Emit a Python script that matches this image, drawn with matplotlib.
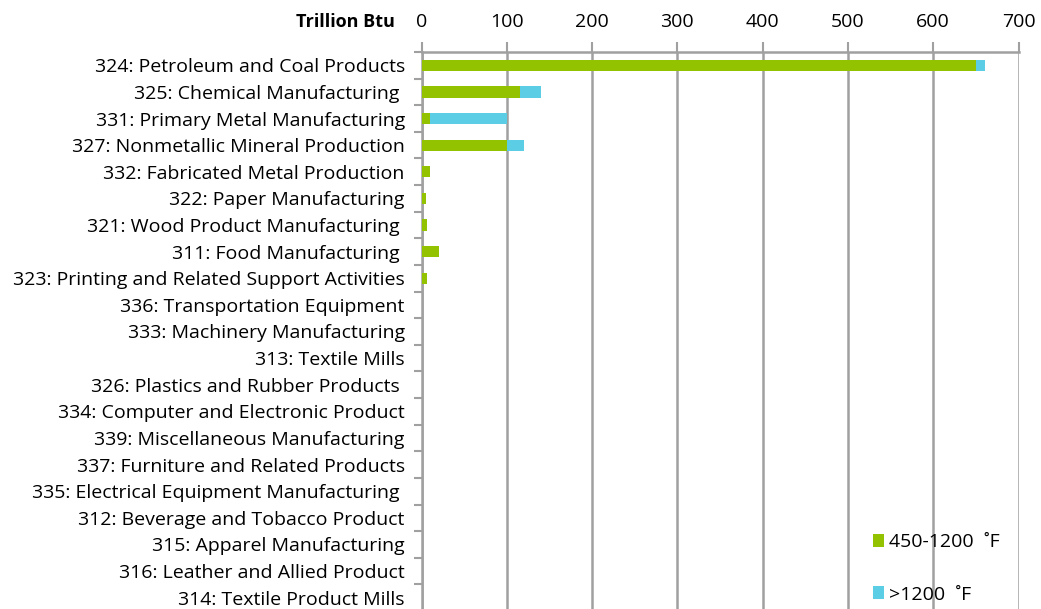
import matplotlib
matplotlib.use("Agg")
import matplotlib.pyplot as plt
import numpy as np

plt.rcParams['font.family'] = ['Open Sans', 'DejaVu Sans']

categories = [
    "324: Petroleum and Coal Products",
    "325: Chemical Manufacturing ",
    "331: Primary Metal Manufacturing",
    "327: Nonmetallic Mineral Production",
    "332: Fabricated Metal Production",
    "322: Paper Manufacturing",
    "321: Wood Product Manufacturing ",
    "311: Food Manufacturing ",
    "323: Printing and Related Support Activities",
    "336: Transportation Equipment",
    "333: Machinery Manufacturing",
    "313: Textile Mills",
    "326: Plastics and Rubber Products ",
    "334: Computer and Electronic Product",
    "339: Miscellaneous Manufacturing",
    "337: Furniture and Related Products",
    "335: Electrical Equipment Manufacturing ",
    "312: Beverage and Tobacco Product",
    "315: Apparel Manufacturing",
    "316: Leather and Allied Product",
    "314: Textile Product Mills",
]
mid_temp = [650, 115, 10, 100, 10, 5, 6.5, 20.5, 6.5, 0, 0, 0, 0, 0, 0, 0, 0, 0, 0, 0, 0]
high_temp = [11, 25, 90, 20, 0, 0, 0, 0, 0, 0, 0, 0, 0, 0, 0, 0, 0, 0, 0, 0, 0]
series_labels = ["450-1200  ˚F", ">1200  ˚F"]
xticks = [0, 100, 200, 300, 400, 500, 600, 700]

green = "#93C200"
cyan = "#5BCDE5"
gray = "#A0A0A0"

fig = plt.figure(figsize=(10.41, 6.09), dpi=100)
ax = fig.add_axes([421.5/1041, -2/609, (1018.5-421.5)/1041, (611-52)/609])

y = np.arange(len(categories))
ax.barh(y, mid_temp, height=0.42, color=green, label=series_labels[0], zorder=3)
ax.barh(y, high_temp, left=mid_temp, height=0.42, color=cyan, label=series_labels[1], zorder=3)

ax.set_ylim(len(categories) - 0.5, -0.5)
ax.set_xlim(0, 700)
ax.xaxis.tick_top()
ax.set_xticks(xticks)
ax.tick_params(axis='x', length=7, width=1.5, color=gray, labelsize=14, pad=8)
ax.grid(axis='x', color=gray, linewidth=1.8, zorder=0)

ax.set_yticks(y)
ax.set_yticklabels(categories, fontsize=14)
ax.set_yticks(np.arange(len(categories) + 1) - 0.5, minor=True)
ax.tick_params(axis='y', which='major', length=0, pad=12)
ax.tick_params(axis='y', which='minor', length=6, width=1.5, color=gray)

for s in ['right', 'bottom']:
    ax.spines[s].set_visible(False)
for s in ['top', 'left']:
    ax.spines[s].set_color(gray)
    ax.spines[s].set_linewidth(1.8)

fig.text(345/1041, 1 - 22/609, "Trillion Btu", ha='center', va='center',
         fontsize=13, fontweight='bold')

leg = ax.legend(loc='lower left', bbox_to_anchor=(855/1041, -12/609), bbox_transform=fig.transFigure,
                frameon=False, fontsize=14, handlelength=0.6, handleheight=0.6,
                handletextpad=0.25, labelspacing=1.75)

fig.savefig("out.png", dpi=100)
